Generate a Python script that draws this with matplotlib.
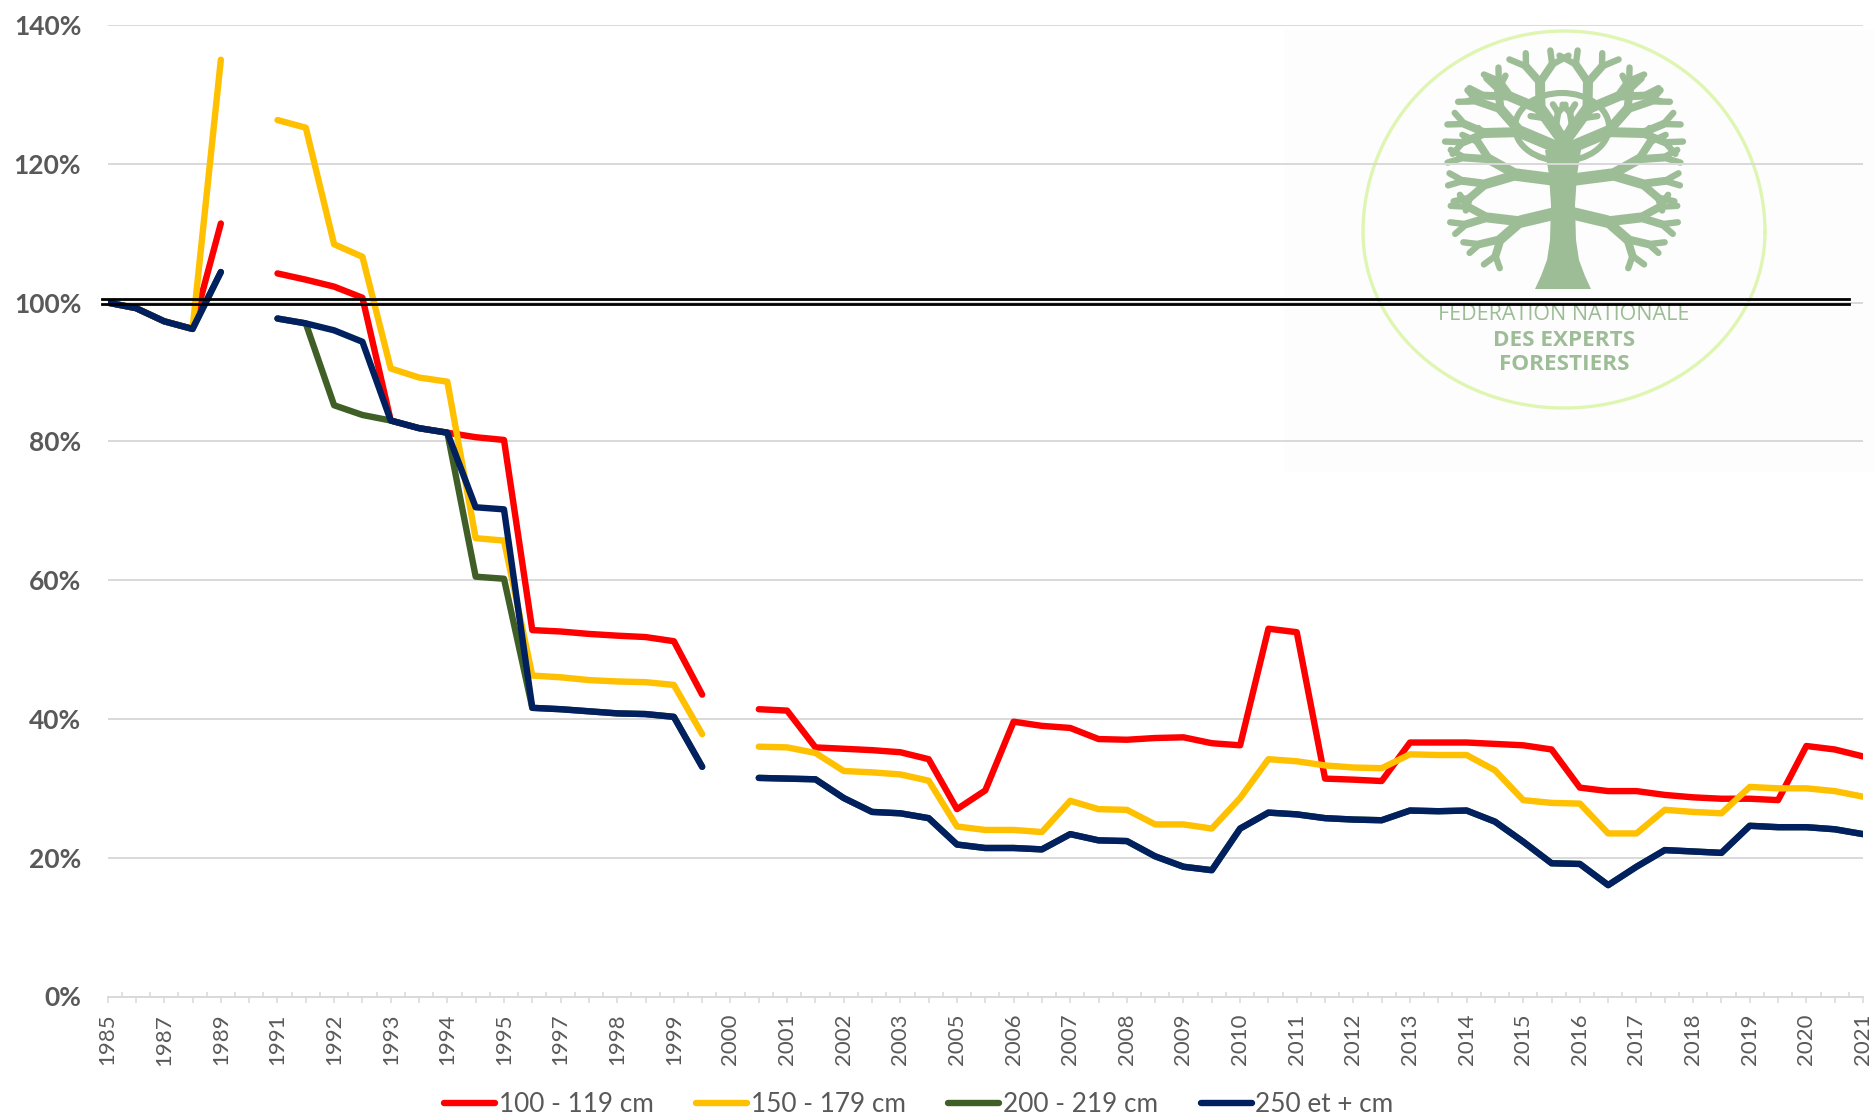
import math
import numpy as np
import matplotlib
matplotlib.use("Agg")
import matplotlib.pyplot as plt
from matplotlib.patches import Polygon, Rectangle, Ellipse
from matplotlib.ticker import FuncFormatter

nan = float("nan")

# Category labels: one label every two half-year categories
year_labels = [1985, 1987, 1989, 1991, 1992, 1993, 1994, 1995, 1997, 1998, 1999, 2000,
               2001, 2002, 2003, 2005, 2006, 2007, 2008, 2009, 2010, 2011, 2012, 2013,
               2014, 2015, 2016, 2017, 2018, 2019, 2020, 2021]
y_ticks = [0, 20, 40, 60, 80, 100, 120, 140]

series_names = ["100 - 119 cm", "150 - 179 cm", "200 - 219 cm", "250 et + cm"]

red = [100, 99.2, 97.3, 96.2, 111.4, nan, 104.2, 103.3, 102.3, 100.7, 83.0, 81.9, 81.25,
       80.6, 80.2, 52.8, 52.6, 52.25, 52.0, 51.8, 51.2, 43.5, nan, 41.4, 41.2, 35.9, 35.7,
       35.5, 35.2, 34.2, 27.0, 29.7, 39.6, 39.0, 38.7, 37.1, 37.0, 37.25, 37.35, 36.5,
       36.2, 53.0, 52.5, 31.4, 31.25, 31.05, 36.6, 36.6, 36.6, 36.4, 36.2, 35.6, 30.1,
       29.6, 29.6, 29.05, 28.7, 28.5, 28.5, 28.3, 36.1, 35.6, 34.6]
yellow = [100, 99.2, 97.3, 96.2, 135.0, nan, 126.3, 125.2, 108.4, 106.6, 90.5, 89.2, 88.6,
          66.05, 65.7, 46.25, 46.0, 45.6, 45.4, 45.3, 44.9, 37.8, nan, 36.0, 35.9, 35.1,
          32.5, 32.3, 32.0, 31.1, 24.5, 24.0, 24.0, 23.7, 28.2, 27.0, 26.9, 24.8, 24.8,
          24.2, 28.6, 34.2, 33.9, 33.3, 33.0, 32.9, 34.9, 34.8, 34.8, 32.6, 28.3, 27.9,
          27.8, 23.5, 23.5, 26.9, 26.6, 26.4, 30.2, 30.0, 30.0, 29.6, 28.8]
navy = [100, 99.2, 97.3, 96.2, 104.4, nan, 97.7, 97.0, 96.0, 94.35, 83.0, 81.9, 81.25,
        70.5, 70.2, 41.6, 41.4, 41.1, 40.8, 40.7, 40.3, 33.1, nan, 31.5, 31.4, 31.3, 28.6,
        26.6, 26.4, 25.7, 21.9, 21.4, 21.4, 21.2, 23.4, 22.5, 22.4, 20.2, 18.7, 18.2,
        24.2, 26.5, 26.25, 25.7, 25.5, 25.4, 26.8, 26.7, 26.8, 25.2, 22.3, 19.2, 19.1,
        16.05, 18.7, 21.1, 20.9, 20.7, 24.6, 24.4, 24.4, 24.1, 23.4]
green = [100, 99.2, 97.3, 96.2, 104.4, nan, 97.7, 97.0, 85.2, 83.8, 83.0, 81.9, 81.25,
         60.5, 60.2, 41.6, 41.4, 41.1, 40.8, 40.7, 40.3, 33.1, nan, 31.5, 31.4, 31.3, 28.6,
         26.6, 26.4, 25.7, 21.9, 21.4, 21.4, 21.2, 23.4, 22.5, 22.4, 20.2, 18.7, 18.2,
         24.2, 26.5, 26.25, 25.7, 25.5, 25.4, 26.8, 26.7, 26.8, 25.2, 22.3, 19.2, 19.1,
         16.05, 18.7, 21.1, 20.9, 20.7, 24.6, 24.4, 24.4, 24.1, 23.4]
reference_levels = [100.5, 99.8]

colors = ["#FF0000", "#FFC000", "#3F5F26", "#002060"]
GRID = "#D9D9D9"
TXT = "#595959"
LOGO = "#9DBD96"
W, H = 1875, 1118

plt.rcParams["font.family"] = ["Lato", "DejaVu Sans"]
fig = plt.figure(figsize=(W / 100, H / 100), dpi=100, facecolor="white")

# ---- watermark logo (decorative, in pixel coordinates) ----
bg = fig.add_axes([0, 0, 1, 1], zorder=0)
bg.set_xlim(0, W)
bg.set_ylim(H, 0)
bg.axis("off")
bg.add_patch(Rectangle((1284, 30), W - 1284, 442, fc="#FDFDFD", ec="none"))

# egg-shaped ring: widest below its middle
t = np.linspace(0, 2 * np.pi, 300)
ring_x = 1564 + 201 * np.cos(t)
ring_y = 232 - np.where(np.sin(t) > 0, 201, 176) * np.sin(t)
bg.plot(ring_x, ring_y, color="#DFF6B2", lw=2.4)

CX, CY, RX, RY = 1564, 146, 119, 87


def to_px(u, v):
    return CX + RX * u, CY - RY * v


def branch(u, v, ang, length, width, depth, flip=1):
    a = math.radians(ang)
    u2 = u + length * math.cos(a)
    v2 = v + length * math.sin(a)
    p1, p2 = to_px(u, v), to_px(u2, v2)
    bg.plot([p1[0], p2[0]], [p1[1], p2[1]], color=LOGO, lw=width, solid_capstyle="round")
    if depth == 0:
        return
    spread = 32
    branch(u2, v2, ang + spread * flip, length * 0.70, max(width * 0.8, 4.6), depth - 1, -flip)
    branch(u2, v2, ang - spread * 0.85 * flip, length * 0.74, max(width * 0.8, 4.6), depth - 1, flip)


# trunk
half_widths = [(289, 28), (276, 22), (260, 16), (240, 13), (205, 12), (175, 14), (150, 18)]
pts = [(1563 - w, y) for y, w in half_widths] + [(1563 + w, y) for y, w in reversed(half_widths)]
bg.add_patch(Polygon(pts, fc=LOGO, ec="none"))

# limbs: (start v, angle, length, width)
limbs = [(-0.75, 198, 0.38, 9), (-0.40, 170, 0.40, 9), (-0.05, 150, 0.42, 9), (0.05, 118, 0.42, 9),
         (0.05, 62, 0.42, 9), (-0.05, 30, 0.42, 9), (-0.40, 10, 0.40, 9), (-0.75, -18, 0.38, 9)]
for sv, ang, ln, wd in limbs:
    branch(0, sv, ang, ln, wd, 3, 1 if ang > 90 else -1)
for ang in (70, 110):
    branch(0, 0.05, ang, 0.20, 6, 2, 1 if ang > 90 else -1)
bg.add_patch(Ellipse((1562, 127), 94, 68, fc="none", ec=LOGO, lw=4.4))

bg.text(1564, 315, "FEDERATION NATIONALE", family="Open Sans", fontsize=15.5, color=LOGO,
        ha="center", va="center")
bg.text(1564, 340, "DES EXPERTS", family="Open Sans", fontweight="bold", fontsize=16.2, color=LOGO,
        ha="center", va="center")
bg.text(1564, 365, "FORESTIERS", family="Open Sans", fontweight="bold", fontsize=16.2, color=LOGO,
        ha="center", va="center")

# ---- chart ----
left, right, top, bottom = 107.6, 1863, 25, 996.5
ax = fig.add_axes([left / W, 1 - bottom / H, (right - left) / W, (bottom - top) / H], zorder=1)
ax.patch.set_alpha(0)

x = np.arange(len(red))
for vals, col, name in zip([red, yellow, green, navy], colors, series_names):
    ax.plot(x, vals, color=col, lw=4.6, solid_capstyle="round", solid_joinstyle="round", label=name, zorder=3)

for lev in reference_levels:
    ax.plot([-0.2, 61.5], [lev, lev], color="black", lw=2.0, clip_on=False, zorder=4)

ax.set_xlim(0, len(red) - 1)
ax.set_ylim(0, 140)
ax.set_yticks(y_ticks)
ax.yaxis.set_major_formatter(FuncFormatter(lambda v, _: f"{v:.0f}%"))
ax.grid(axis="y", color=GRID, lw=1.4, zorder=1)
ax.set_axisbelow(True)
for s in ["top", "left", "right"]:
    ax.spines[s].set_visible(False)
ax.spines["bottom"].set_color(GRID)
ax.spines["bottom"].set_linewidth(1.4)

tick_labels = [""] * len(red)
for i, yr in enumerate(year_labels):
    tick_labels[2 * i] = str(yr)
ax.set_xticks(x)
ax.set_xticklabels(tick_labels, rotation=90, fontsize=16, color=TXT)
ax.set_xticks(x[:-1] + 0.5, minor=True)
ax.tick_params(axis="x", which="major", direction="out", length=4.5, width=1.1, color=GRID, pad=8)
ax.tick_params(axis="x", which="minor", direction="in", length=3.6, width=1.1, color=GRID)
ax.tick_params(axis="y", length=0, pad=19)
for lab in ax.get_yticklabels():
    lab.set_fontsize(19)
    lab.set_fontweight("bold")
    lab.set_color(TXT)

fig.legend(*ax.get_legend_handles_labels(), loc="center", bbox_to_anchor=(919 / W, 1 - 1105 / H),
           ncol=4, frameon=False, fontsize=18.8, labelcolor=TXT, handlelength=1.95, handletextpad=0.15,
           columnspacing=1.62, borderpad=0, borderaxespad=0)

fig.savefig("out.png", dpi=100, facecolor="white")
